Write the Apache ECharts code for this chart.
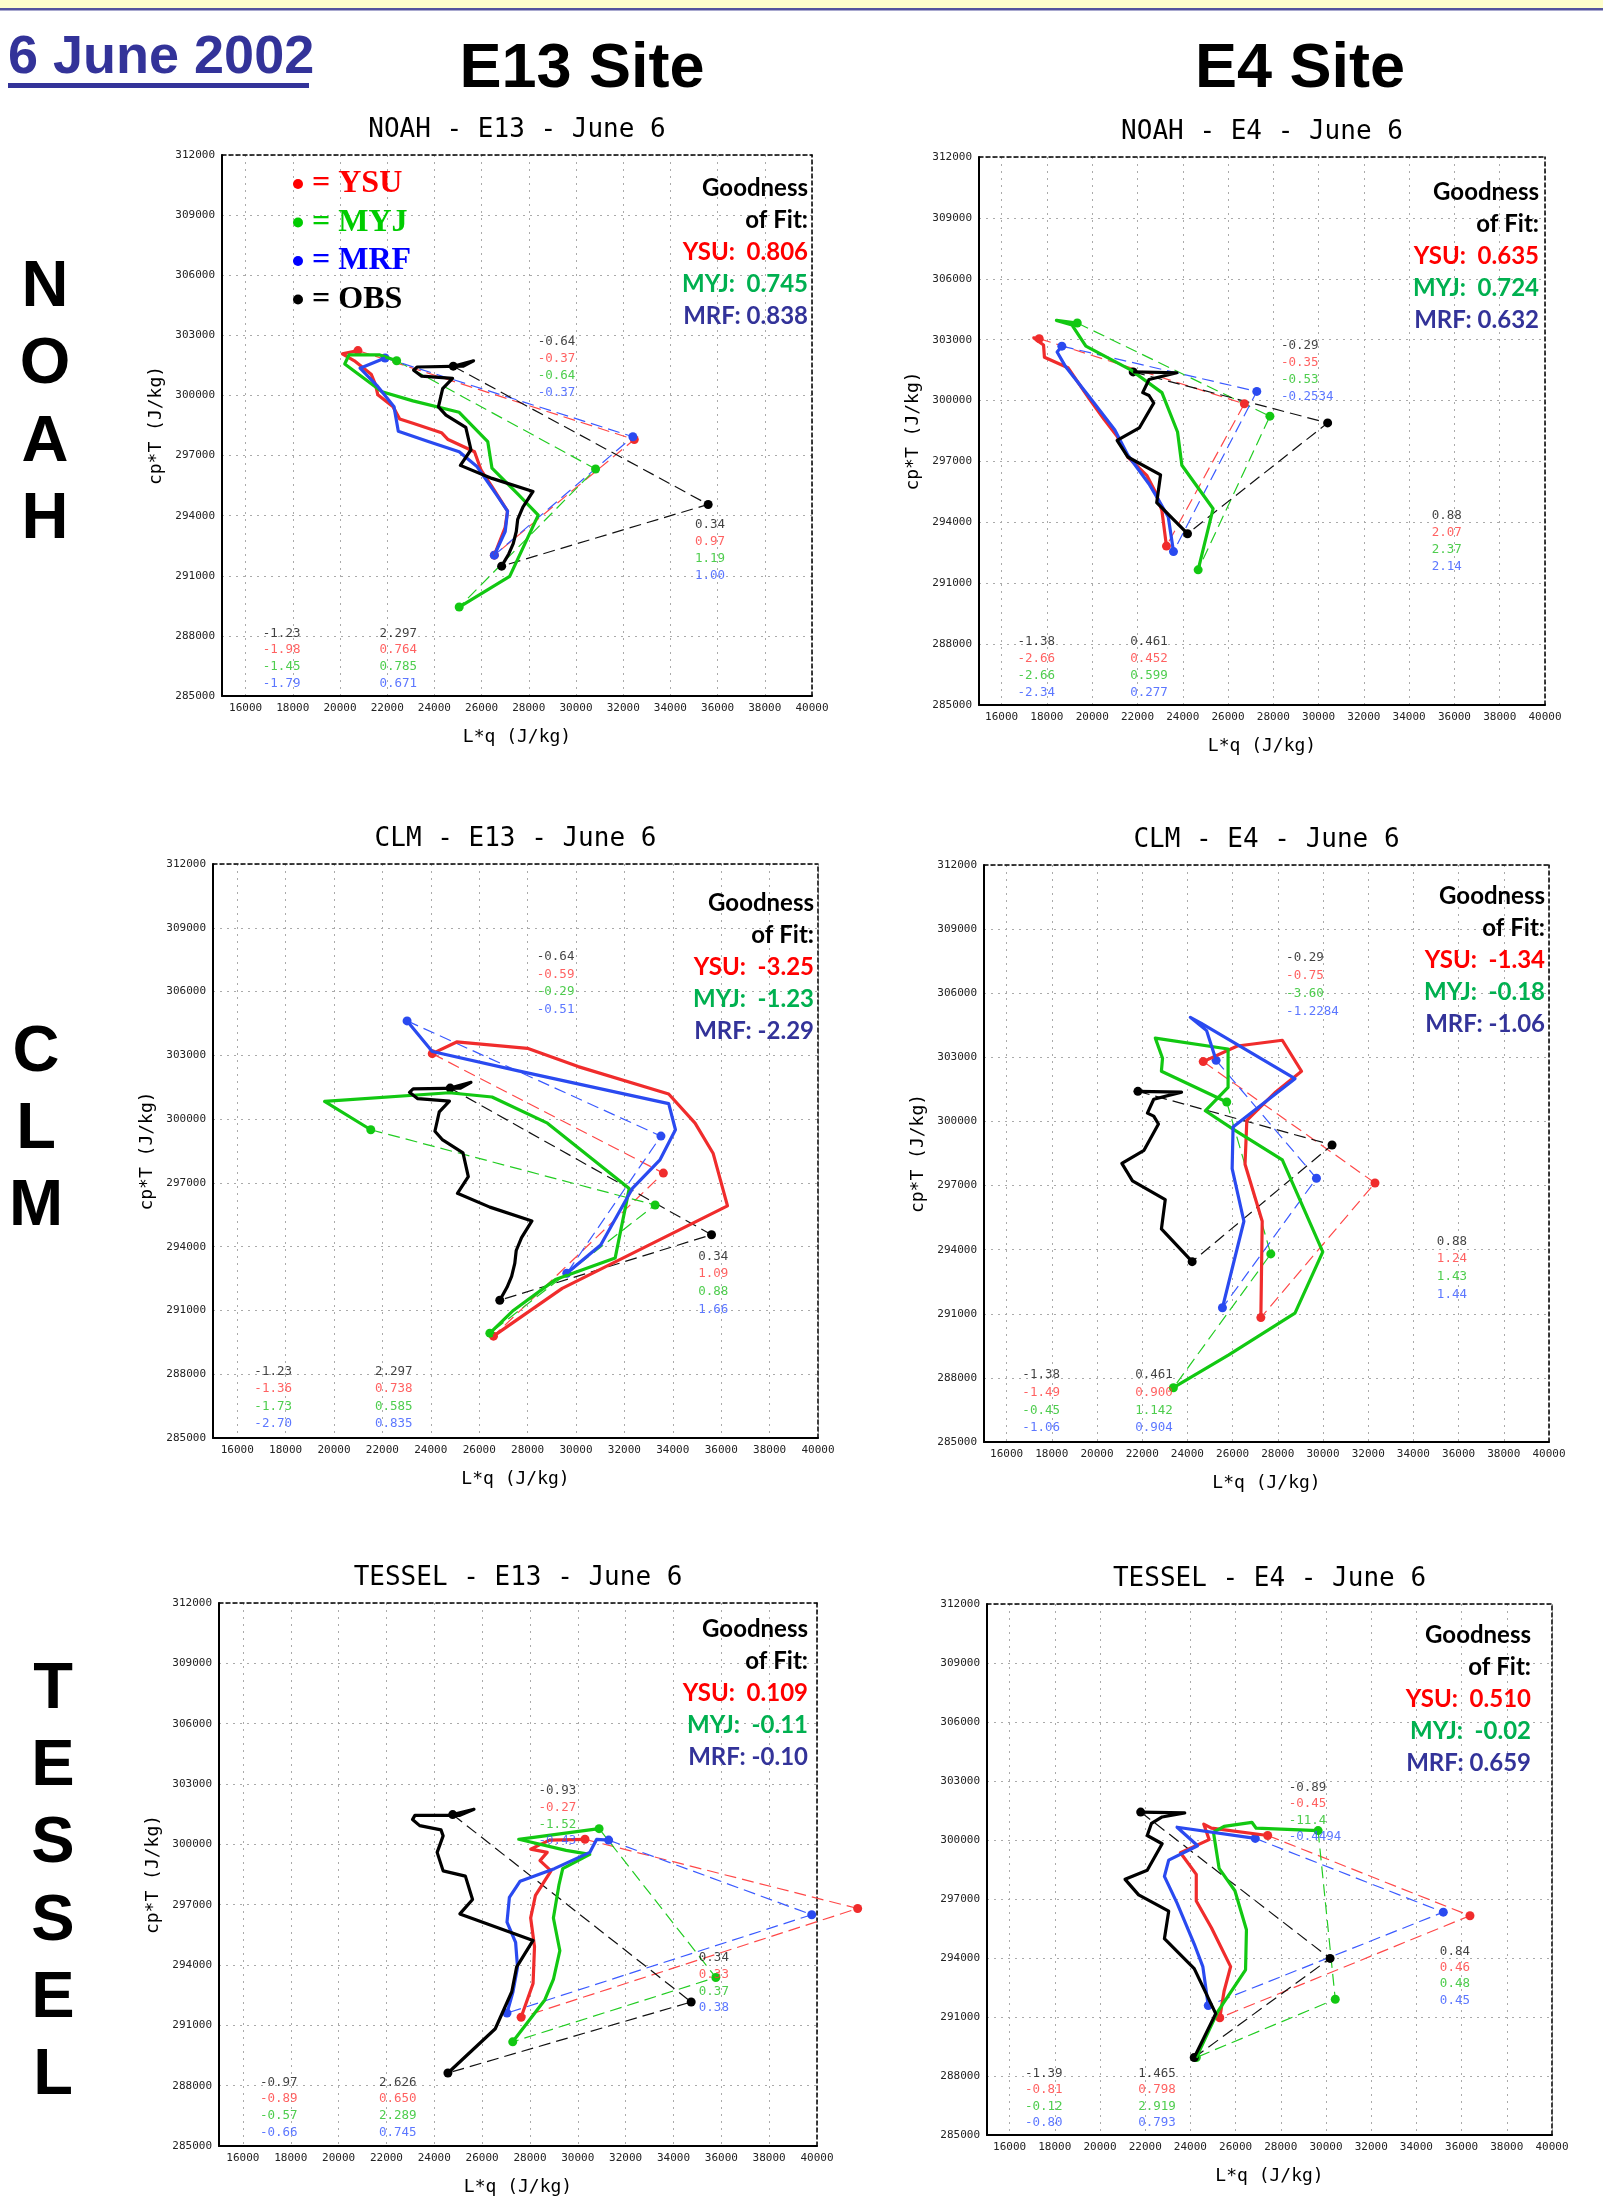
<!DOCTYPE html>
<html><head><meta charset="utf-8">
<script src="https://cdn.jsdelivr.net/npm/echarts/dist/echarts.min.js"></script>
<style>html,body{margin:0;padding:0;background:#fff}#c{width:1603px;height:2200px}</style>
</head><body><div id="c"></div>
<script>
// ---------------- DATA ----------------
const xTickMin = 15000, xTickMax = 40000;
const yTickMin = 285000, yTickMax = 312000, yTickStep = 3000;

// observations (profiles: first point = top dot, last point = bottom dot)
const obsE13 = [[24800,301460],[25660,301730],[25230,301460],[23270,301420],[23120,301260],[23460,300960],[24770,300850],[24350,300340],[24170,299430],[24490,299020],[25330,298410],[25550,297290],[25100,296510],[26440,295860],[28180,295210],[27750,294430],[27530,293820],[27470,293210],[27340,292600],[27150,292090],[26850,291480]];
const obsE13Far = [35600,294560];
const obsE4 = [[21810,301410],[23740,301370],[22510,301040],[22230,300390],[22510,300250],[22720,299880],[22080,298650],[21100,298040],[21570,297220],[23020,296340],[22850,294970],[24210,293440]];
const obsE4Far = [30400,298900];

// NOAH E13
const p1_ysu = [[20760,302240],[20100,302080],[20610,301730],[21320,301060],[21500,300550],[21600,300040],[22250,299430],[22530,298820],[23090,298610],[24300,298140],[24580,297800],[25700,297190],[25980,296270],[26440,295450],[27100,294230],[27000,293420],[26540,292030]];
const p1_ysuFar = [32470,297800];
const p1_myj = [[22400,301730],[21690,302020],[20380,302020],[20200,301570],[21780,300180],[23090,299730],[25050,299160],[26260,297700],[26440,296370],[27560,295050],[28400,294030],[27190,290970],[25050,289440]];
const p1_myjFar = [30830,296330];
const p1_mrf = [[21910,301870],[20850,301360],[21600,300450],[22290,299430],[22470,298210],[23740,297700],[25050,297190],[25790,296470],[26630,295050],[27100,294230],[27000,293210],[26540,292030]];
const p1_mrfFar = [32410,297940];
const p1_fit = ["0.806","0.745","0.838"];
const p1_noteAt = [[28400,302630],[35060,293500],[16750,288100],[21690,288100]];
const p1_notes = [["-0.64","-0.37","-0.64","-0.37"],["0.34","0.97","1.19","1.00"],["-1.23","-1.98","-1.45","-1.79"],["2.297","0.764","0.785","0.671"]];

// NOAH E4
const p2_ysu = [[17660,303050],[17420,303090],[17850,302740],[17890,302130],[18930,301620],[19870,300080],[20530,299060],[21100,298240],[21570,297220],[22420,296300],[22790,295490],[23080,294570],[23280,292830]];
const p2_ysuFar = [26720,299840];
const p2_myj = [[19340,303820],[18420,303950],[19110,303720],[19720,302680],[21700,301510],[23080,300390],[23770,298450],[23960,296810],[25340,294670],[24680,291660]];
const p2_myjFar = [27850,299230];
const p2_mrf = [[18660,302680],[18450,302390],[18830,301660],[19870,300190],[21000,298550],[21570,297320],[22510,295890],[22890,295180],[23360,294260],[23590,292560]];
const p2_mrfFar = [27270,300450];
const p2_fit = ["0.635","0.724","0.632"];
const p2_noteAt = [[28360,302660],[35020,294320],[16720,288090],[21700,288090]];
const p2_notes = [["-0.29","-0.35","-0.53","-0.2534"],["0.88","2.07","2.37","2.14"],["-1.38","-2.66","-2.66","-2.34"],["0.461","0.452","0.599","0.277"]];

// CLM E13
const p3_ysu = [[24060,303080],[25070,303630],[27990,303330],[30090,302470],[33830,301180],[34920,299810],[35670,298380],[36260,295920],[29430,292040],[26590,289790]];
const p3_ysuFar = [33610,297460];
const p3_myj = [[21520,299500],[19610,300830],[24760,301240],[26530,301040],[28820,299810],[32200,296740],[31620,293470],[29150,292450],[27380,290970],[26440,289930]];
const p3_myjFar = [33270,295960];
const p3_mrf = [[23020,304620],[24060,303180],[27660,302260],[33830,300730],[34110,299500],[33460,298070],[32330,296740],[31020,294080],[29620,292750]];
const p3_mrfFar = [33510,299200];
const p3_fit = ["-3.25","-1.23","-2.29"];
const p3_noteAt = [[28400,307600],[35070,293510],[16730,288110],[21710,288110]];
const p3_notes = [["-0.64","-0.59","-0.29","-0.51"],["0.34","1.09","0.88","1.66"],["-1.23","-1.36","-1.73","-2.70"],["2.297","0.738","0.585","0.835"]];

// CLM E4
const p4_ysu = [[24700,302800],[26210,303530],[28200,303800],[29050,302350],[27910,301380],[26630,300050],[26550,298000],[27310,295330],[27250,290820]];
const p4_ysuFar = [32300,297120];
const p4_myj = [[25740,300910],[22850,302350],[22900,302960],[22580,303900],[25800,303390],[25800,301590],[24790,300500],[26020,299640],[28200,298200],[29990,293900],[28760,291030],[25830,289080],[23380,287540]];
const p4_myjFar = [27690,293800];
const p4_mrf = [[25270,302860],[24850,304250],[24130,304870],[24600,304600],[28760,302000],[26020,299740],[25980,297790],[26500,295330],[25550,291280]];
const p4_mrfFar = [29710,297340];
const p4_fit = ["-1.34","-0.18","-1.06"];
const p4_noteAt = [[28390,307630],[35060,294370],[16720,288120],[21710,288120]];
const p4_notes = [["-0.29","-0.75","-3.60","-1.2284"],["0.88","1.24","1.43","1.44"],["-1.38","-1.49","-0.45","-1.06"],["0.461","0.900","1.142","0.904"]];

// TESSEL E13
const p5_obs = [[24770,301480],[25660,301740],[25070,301440],[23190,301440],[23090,301230],[23390,300930],[24280,300720],[24370,300420],[24120,299600],[24370,298680],[25300,298420],[25600,297260],[25070,296540],[28130,295220],[27440,293890],[27240,292670],[26550,290830],[24570,288630]];
const p5_obsFar = [34740,292160];
const p5_ysu = [[30300,300250],[28820,300210],[28030,299760],[28720,299600],[28420,299190],[28880,298680],[28230,297460],[28030,296340],[28190,294910],[28130,293080],[27630,291400]];
const p5_ysuFar = [41700,296810];
const p5_myj = [[30890,300780],[27530,300250],[29510,299700],[30500,299500],[29370,298790],[29210,297970],[28980,296340],[29250,294710],[28980,293280],[28620,292260],[27280,290180]];
const p5_myjFar = [35770,293380];
const p5_mrf = [[31290,300210],[30790,300250],[30500,299600],[29020,298790],[27590,298170],[27140,297360],[27040,296130],[27400,295120],[27480,293890],[27290,292670],[27040,291610]];
const p5_mrfFar = [39780,296500];
const p5_fit = ["0.109","-0.11","-0.10"];
const p5_noteAt = [[28380,302640],[35080,294340],[16730,288140],[21710,288140]];
const p5_notes = [["-0.93","-0.27","-1.52","-0.43"],["0.34","0.33","0.37","0.38"],["-0.97","-0.89","-0.57","-0.66"],["2.626","0.650","2.289","0.745"]];

// TESSEL E4
const p6_obs = [[21800,301420],[23750,301380],[22750,301170],[22280,300850],[22090,300230],[22750,299810],[22090,298460],[21110,298000],[21710,297210],[23040,296380],[22850,294980],[24170,293460],[25120,291170],[24170,288940]];
const p6_obsFar = [30180,293980];
const p6_ysu = [[27420,300230],[24930,300600],[24590,300810],[24830,300020],[23560,299350],[24260,298250],[24260,296900],[24930,295540],[25780,293560],[25490,292310],[25300,290960]];
const p6_ysuFar = [36370,296150];
const p6_myj = [[29650,300480],[26910,300600],[26720,300900],[25490,300690],[25020,300400],[25270,298560],[25970,297420],[26480,295440],[26440,293400],[25210,291270],[24260,288940]];
const p6_myjFar = [30410,291900];
const p6_mrf = [[26870,300080],[23410,300650],[24320,299710],[23040,298980],[22850,298150],[23410,296790],[24170,294710],[24550,293560],[24790,291580]];
const p6_mrfFar = [35190,296330];
const p6_fit = ["0.510","-0.02","0.659"];
const p6_noteAt = [[28370,302630],[35060,294310],[16700,288100],[21710,288100]];
const p6_notes = [["-0.89","-0.45","-11.4","-0.4494"],["0.84","0.46","0.48","0.45"],["-1.39","-0.81","-0.12","-0.80"],["1.465","0.798","2.919","0.793"]];

const panelTitles = ["NOAH - E13 - June 6","NOAH - E4 - June 6","CLM - E13 - June 6","CLM - E4 - June 6","TESSEL - E13 - June 6","TESSEL - E4 - June 6"];
const rowLabels = [["N","O","A","H"],["C","L","M"],["T","E","S","S","E","L"]];
const legendNames = ["YSU","MYJ","MRF","OBS"];

// ---------------- BUILD ----------------
const panels = [
  {ysu:[p1_ysu,p1_ysuFar], myj:[p1_myj,p1_myjFar], mrf:[p1_mrf,p1_mrfFar], obs:[obsE13,obsE13Far], fit:p1_fit, noteAt:p1_noteAt, notes:p1_notes},
  {ysu:[p2_ysu,p2_ysuFar], myj:[p2_myj,p2_myjFar], mrf:[p2_mrf,p2_mrfFar], obs:[obsE4,obsE4Far], fit:p2_fit, noteAt:p2_noteAt, notes:p2_notes},
  {ysu:[p3_ysu,p3_ysuFar], myj:[p3_myj,p3_myjFar], mrf:[p3_mrf,p3_mrfFar], obs:[obsE13,obsE13Far], fit:p3_fit, noteAt:p3_noteAt, notes:p3_notes},
  {ysu:[p4_ysu,p4_ysuFar], myj:[p4_myj,p4_myjFar], mrf:[p4_mrf,p4_mrfFar], obs:[obsE4,obsE4Far], fit:p4_fit, noteAt:p4_noteAt, notes:p4_notes},
  {ysu:[p5_ysu,p5_ysuFar], myj:[p5_myj,p5_myjFar], mrf:[p5_mrf,p5_mrfFar], obs:[p5_obs,p5_obsFar], fit:p5_fit, noteAt:p5_noteAt, notes:p5_notes},
  {ysu:[p6_ysu,p6_ysuFar], myj:[p6_myj,p6_myjFar], mrf:[p6_mrf,p6_mrfFar], obs:[p6_obs,p6_obsFar], fit:p6_fit, noteAt:p6_noteAt, notes:p6_notes}
];

const layout = [
  {left:222, top:155, width:590, height:541, fitRight:4, fitTop:33, noteH:16.7, yName:true},
  {left:979, top:157, width:566, height:548, fitRight:6, fitTop:35, noteH:17, yName:true},
  {left:213, top:864, width:605, height:574, fitRight:4, fitTop:39, noteH:17.6, yName:true},
  {left:984, top:865, width:565, height:577, fitRight:4, fitTop:31.5, noteH:17.8, yName:true},
  {left:219, top:1603, width:598, height:543, fitRight:9, fitTop:26, noteH:16.8, yName:true, extMax:42000},
  {left:987, top:1604, width:565, height:531, fitRight:21, fitTop:31, noteH:16.4, yName:false}
];

const COL = {ysu:'#F02C2C', myj:'#12C812', mrf:'#2A4AF0', obs:'#000000'};
const DASHCOL = {ysu:'#FF4848', myj:'#22CC22', mrf:'#3A5AFF', obs:'#111111'};
const FITCOL = ['#FF0000','#00B050','#333399'];
const MONO = '"DejaVu Sans Mono", "Liberation Mono", monospace';
const SANS = '"Liberation Sans", Arial, sans-serif';

const option = {animation:false, backgroundColor:'#ffffff', grid:[], xAxis:[], yAxis:[], series:[], graphic:[]};
const G = option.graphic;
const plain = v => String(Math.round(v));

// header
G.push({type:'rect', shape:{x:0,y:0,width:1603,height:8}, style:{fill:'#FFFFCC'}, silent:true});
G.push({type:'rect', shape:{x:0,y:8,width:1603,height:2.5}, style:{fill:'#55559F'}, silent:true});
G.push({type:'text', x:8, y:58, style:{text:'6 June 2002', font:'bold 54px '+SANS, fill:'#333399', align:'left', verticalAlign:'middle'}});
G.push({type:'rect', shape:{x:8,y:83,width:301,height:5}, style:{fill:'#333399'}});
G.push({type:'text', x:582, y:70, style:{text:'E13 Site', font:'bold 63px '+SANS, fill:'#000', align:'center', verticalAlign:'middle'}});
G.push({type:'text', x:1300, y:70, style:{text:'E4 Site', font:'bold 63px '+SANS, fill:'#000', align:'center', verticalAlign:'middle'}});

// row labels
const rowPos = [{x:45, y0:288, dy:77.3}, {x:36, y0:1053, dy:77}, {x:53, y0:1690, dy:77.2}];
rowLabels.forEach((letters, r) => {
  letters.forEach((ch, k) => {
    G.push({type:'text', x:rowPos[r].x, y:rowPos[r].y0 + k*rowPos[r].dy,
      style:{text:ch, font:'bold 65px '+SANS, fill:'#000', align:'center', verticalAlign:'middle'}});
  });
});

const models = ['ysu','myj','mrf','obs'];
const extList = [];

panels.forEach((p, i) => {
  const L = layout[i];
  option.grid.push({left:L.left, top:L.top, width:L.width, height:L.height, show:false});
  const lab = {fontFamily:MONO, fontSize:11, color:'#222', formatter:plain};
  option.xAxis.push({type:'value', gridIndex:i, min:xTickMin, max:xTickMax, splitNumber:12, position:'bottom',
    axisLine:{show:true, onZero:false, lineStyle:{color:'#000', width:2}},
    axisTick:{show:false},
    axisLabel:Object.assign({margin:7, showMinLabel:false}, lab),
    splitLine:{show:true, lineStyle:{color:'#aaaaaa', type:[2,5], width:1}},
    name:'L*q (J/kg)', nameLocation:'middle', nameGap:32,
    nameTextStyle:{fontFamily:MONO, fontSize:18, color:'#000'}});
  option.xAxis.push({type:'value', gridIndex:i, min:xTickMin, max:xTickMax, position:'top',
    axisLine:{show:true, onZero:false, lineStyle:{color:'#000', width:1.5, type:[4,3]}},
    axisTick:{show:false}, axisLabel:{show:false}, splitLine:{show:false}});
  const yMain = {type:'value', gridIndex:i, min:yTickMin, max:yTickMax, interval:yTickStep, position:'left',
    axisLine:{show:true, onZero:false, lineStyle:{color:'#000', width:2}},
    axisTick:{show:false},
    axisLabel:Object.assign({margin:7}, lab),
    splitLine:{show:true, lineStyle:{color:'#aaaaaa', type:[2,5], width:1}}};
  if (L.yName) Object.assign(yMain, {name:'cp*T (J/kg)', nameLocation:'middle', nameGap:57, nameRotate:90,
    nameTextStyle:{fontFamily:MONO, fontSize:18, color:'#000'}});
  option.yAxis.push(yMain);
  option.yAxis.push({type:'value', gridIndex:i, min:yTickMin, max:yTickMax, position:'right',
    axisLine:{show:true, onZero:false, lineStyle:{color:'#000', width:1.5, type:[4,3]}},
    axisTick:{show:false}, axisLabel:{show:false}, splitLine:{show:false}});

  const xi = 2*i, yi = 2*i;
  // extended (unclipped) coordinate frame for dashed lines reaching past the right edge
  let dxi = xi, dyi = yi;
  if (L.extMax) {
    extList.push({L:L, idx:extList.length});
    dxi = 12 + extList.length - 1; dyi = dxi;
  }
  // dashed connections top -> far -> bottom
  models.forEach(m => {
    const prof = p[m][0], far = p[m][1];
    option.series.push({type:'line', xAxisIndex:dxi, yAxisIndex:dyi, z:2, clip:false,
      data:[prof[0], far, prof[prof.length-1]],
      symbol:'circle', symbolSize:9, showSymbol:true,
      itemStyle:{color:COL[m]},
      lineStyle:{color:DASHCOL[m], width:1.2, type:[12,6]}});
  });
  // profiles
  models.forEach(m => {
    option.series.push({type:'line', xAxisIndex:xi, yAxisIndex:yi, z:3, clip:false,
      data:p[m][0], showSymbol:false, symbol:'none',
      lineStyle:{color:COL[m], width:3.2, join:'round'}});
  });
  // annotations
  option.series.push({type:'scatter', xAxisIndex:xi, yAxisIndex:yi, z:4, clip:false,
    symbolSize:1, itemStyle:{color:'rgba(0,0,0,0)'}, silent:true,
    data:p.noteAt.map((pt, k) => ({value:pt, label:{formatter:
      '{k|'+p.notes[k][0]+'}\n{r|'+p.notes[k][1]+'}\n{g|'+p.notes[k][2]+'}\n{b|'+p.notes[k][3]+'}'}})),
    label:{show:true, position:[0,0], align:'left', verticalAlign:'top', offset:[0, -L.noteH/2],
      fontFamily:MONO, fontSize:12.5, lineHeight:L.noteH,
      rich:{k:{color:'#111', fontFamily:MONO, fontSize:12.5, lineHeight:L.noteH},
            r:{color:'#FF3A3A', fontFamily:MONO, fontSize:12.5, lineHeight:L.noteH},
            g:{color:'#22C022', fontFamily:MONO, fontSize:12.5, lineHeight:L.noteH},
            b:{color:'#3355FF', fontFamily:MONO, fontSize:12.5, lineHeight:L.noteH}}}});

  // title
  G.push({type:'text', x:L.left + L.width/2, y:L.top - 24.5,
    style:{text:panelTitles[i], font:'26px '+MONO, fill:'#000', align:'center', verticalAlign:'middle'}});
  // goodness of fit
  const rx = L.left + L.width - L.fitRight;
  const fitLines = [['Goodness','#000'],['of Fit:','#000'],
    ['YSU:  '+p.fit[0], FITCOL[0]],['MYJ:  '+p.fit[1], FITCOL[1]],['MRF: '+p.fit[2], FITCOL[2]]];
  fitLines.forEach((fl, k) => {
    G.push({type:'text', x:rx, y:L.top + L.fitTop + k*32, z:10,
      style:{text:fl[0], font:'bold 24px Lato, "Open Sans", sans-serif', fill:fl[1], align:'right', verticalAlign:'middle'}});
  });
});

// extended frames (same scale, wider range, hidden axes)
extList.forEach((e, k) => {
  const L = e.L;
  const w = L.width * (L.extMax - xTickMin) / (xTickMax - xTickMin);
  option.grid.push({left:L.left, top:L.top, width:w, height:L.height, show:false});
  option.xAxis.push({type:'value', gridIndex:6 + k, min:xTickMin, max:L.extMax, show:false});
  option.yAxis.push({type:'value', gridIndex:6 + k, min:yTickMin, max:yTickMax, show:false});
});

// legend (NOAH E13 panel)
const legCols = ['#FF0000','#00CC00','#0000FF','#000000'];
legendNames.forEach((nm, k) => {
  const y = 184 + k*38.5;
  G.push({type:'circle', shape:{cx:298, cy:y, r:5}, style:{fill:legCols[k]}, z:10});
  G.push({type:'text', x:312, y:y, z:10, style:{text:'= '+nm, font:'bold 32px "Liberation Serif", "Times New Roman", serif', fill:legCols[k], align:'left', verticalAlign:'middle'}});
});

const chart = echarts.init(document.getElementById('c'), null, {renderer:'canvas', width:1603, height:2200});
chart.setOption(option);
</script>
</body></html>
